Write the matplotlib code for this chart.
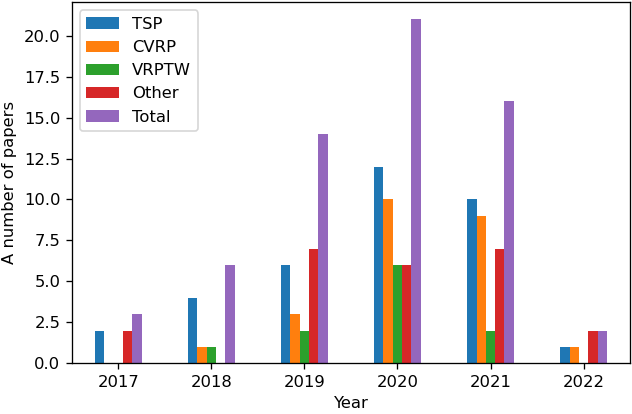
import numpy as np
import matplotlib
matplotlib.use("Agg")
import matplotlib.pyplot as plt

years = ["2017", "2018", "2019", "2020", "2021", "2022"]
series_names = ["TSP", "CVRP", "VRPTW", "Other", "Total"]
tsp = [2, 4, 6, 12, 10, 1]
cvrp = [0, 1, 3, 10, 9, 1]
vrptw = [0, 1, 2, 6, 2, 0]
other = [2, 0, 7, 6, 7, 2]
total = [3, 6, 14, 21, 16, 2]
colors = ["#1f77b4", "#ff7f0e", "#2ca02c", "#d62728", "#9467bd"]

# reference looks like default sizes rendered at a higher dpi
dpi = 118
fig = plt.figure(figsize=(632 / dpi, 414 / dpi), dpi=dpi)
ax = fig.add_axes([0.1135, 0.1225, 0.8835, 0.8725])

x = np.arange(len(years))
w = 0.1
data = [tsp, cvrp, vrptw, other, total]
for i, (name, vals) in enumerate(zip(series_names, data)):
    ax.bar(x + (i - 2) * w, vals, w, label=name, color=colors[i])

ax.set_xticks(x)
ax.set_xticklabels(years)
ax.set_xlim(-0.5, len(years) - 0.5)
ax.set_xlabel("Year")
ax.set_ylabel("A number of papers")
ax.legend(loc="upper left")

fig.savefig("out.png", dpi=dpi)
